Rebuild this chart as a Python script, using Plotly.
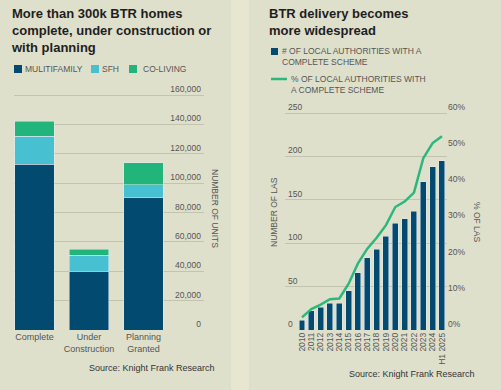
import plotly.graph_objects as go

# ---------------- data ----------------
stages = ["Complete", "Under<br>Construction", "Planning<br>Granted"]
multifamily = [113000, 40000, 90000]
sfh = [19000, 11000, 9000]
co_living = [10000, 4000, 15000]
unit_ticks = [0, 20000, 40000, 60000, 80000, 100000, 120000, 140000, 160000]

years = ["2010", "2011", "2012", "2013", "2014", "2015", "2016", "2017", "2018",
         "2019", "2020", "2021", "2022", "2023", "2024", "H1 2025"]
las_count = [11, 22, 26, 31, 31, 45, 66, 83, 93, 108, 123, 128, 137, 171, 188, 195]
las_pct = [3.5, 5.8, 7.0, 8.5, 8.7, 12.8, 18.4, 22.5, 25.5, 29.0, 34.0, 35.5, 38.0,
           47.5, 51.7, 53.6]
las_ticks = [0, 50, 100, 150, 200, 250]
pct_ticks = [0, 10, 20, 30, 40, 50, 60]
pct_labels = ["0%", "10%", "20%", "30%", "40%", "50%", "60%"]

# ---------------- style ----------------
W, H = 501, 390
NAVY = "#024a70"
CYAN = "#47c1d1"
GREEN = "#21b47b"
LINEG = "#2cb77e"
BG = "#dfe0cc"
STRIPE = "#e7e6d0"
GRID = "#c3c4b0"
TICK = "#555555"
FONT = "Liberation Sans, Arial, sans-serif"


def X(px):
    return px / W


def Y(py):
    return 1 - py / H


# pixel geometry of the plot areas
L_TOP_GRID, L_ZERO = 95, 330          # left chart: 160,000 and 0 lines
R_TOP_GRID, R_ZERO = 113, 330         # right chart: 250 and 0 lines
HEAD = 13                             # extra room above top gridline for labels
l_max = 160000 * (L_ZERO - L_TOP_GRID + HEAD) / (L_ZERO - L_TOP_GRID)
r_max = 250 * (R_ZERO - R_TOP_GRID + HEAD) / (R_ZERO - R_TOP_GRID)
p_max = 60 * r_max / 250
X2_RANGE = [-1.82, 15.54]

fig = go.Figure()

fig.add_trace(go.Bar(x=stages, y=multifamily, name="MULITIFAMILY", marker_color=NAVY,
                     width=0.716, xaxis="x", yaxis="y", showlegend=False))
fig.add_trace(go.Bar(x=stages, y=sfh, name="SFH", marker_color=CYAN,
                     width=0.716, xaxis="x", yaxis="y", showlegend=False))
fig.add_trace(go.Bar(x=stages, y=co_living, name="CO-LIVING", marker_color=GREEN,
                     width=0.716, xaxis="x", yaxis="y", showlegend=False))

fig.add_trace(go.Bar(x=years, y=las_count, name="# OF LOCAL AUTHORITIES WITH A COMPLETE SCHEME",
                     marker_color=NAVY, width=0.64, xaxis="x2", yaxis="y2", showlegend=False))
fig.add_trace(go.Scatter(x=years, y=las_pct, name="% OF LOCAL AUTHORITIES WITH A COMPLETE SCHEME",
                         mode="lines", line=dict(color=LINEG, width=2.5),
                         xaxis="x3", yaxis="y3", showlegend=False))

tickfont = dict(family=FONT, size=8.5, color=TICK)
common = dict(zeroline=False, showline=False, ticks="", ticklen=0, automargin=False,
              fixedrange=True)

fig.update_layout(
    width=W, height=H,
    margin=dict(l=0, r=0, t=0, b=0, pad=0),
    paper_bgcolor=BG, plot_bgcolor="rgba(0,0,0,0)",
    barmode="stack",
    font=dict(family=FONT, color=TICK),
    showlegend=False,
    xaxis=dict(domain=[X(14), X(204)], range=[-0.376, 3.11], showgrid=False,
               anchor="y", tickfont=dict(family=FONT, size=9, color=TICK), **common),
    yaxis=dict(domain=[Y(L_ZERO), Y(L_TOP_GRID - HEAD)], range=[0, l_max], side="right",
               anchor="x", tickvals=unit_ticks, tickformat=",",
               ticklabelposition="inside top", showgrid=True, gridcolor=GRID, gridwidth=1,
               tickfont=tickfont, **common),
    xaxis2=dict(domain=[X(285), X(447)], range=X2_RANGE, showgrid=False,
                anchor="y2", showticklabels=False, **common),
    xaxis3=dict(overlaying="x2", range=X2_RANGE, showgrid=False, anchor="y3",
                tickmode="array", tickvals=years, tickangle=-90,
                tickfont=dict(family=FONT, size=8.5, color=TICK), **common),
    yaxis2=dict(domain=[Y(R_ZERO), Y(R_TOP_GRID - HEAD)], range=[0, r_max], side="left",
                anchor="x2", tickvals=las_ticks, ticklabelposition="inside top",
                showgrid=True, gridcolor=GRID, gridwidth=1, tickfont=tickfont, **common),
    yaxis3=dict(range=[0, p_max], overlaying="y2", side="right", anchor="x3",
                tickmode="array", tickvals=pct_ticks, ticktext=pct_labels,
                ticklabelshift=-6, showgrid=False, tickfont=tickfont, **common),
)

shapes = [
    dict(type="rect", xref="paper", yref="paper", x0=X(231), x1=X(249), y0=0, y1=1,
         fillcolor=STRIPE, line=dict(width=0), layer="below"),
    # left legend swatches
    dict(type="rect", xref="paper", yref="paper", x0=X(14), x1=X(22), y0=Y(73), y1=Y(65),
         fillcolor=NAVY, line=dict(width=0)),
    dict(type="rect", xref="paper", yref="paper", x0=X(91), x1=X(99), y0=Y(73), y1=Y(65),
         fillcolor=CYAN, line=dict(width=0)),
    dict(type="rect", xref="paper", yref="paper", x0=X(129), x1=X(137), y0=Y(73), y1=Y(65),
         fillcolor=GREEN, line=dict(width=0)),
    # right legend swatches
    dict(type="rect", xref="paper", yref="paper", x0=X(271), x1=X(278), y0=Y(55), y1=Y(48),
         fillcolor=NAVY, line=dict(width=0)),
    dict(type="line", xref="paper", yref="paper", x0=X(271), x1=X(287), y0=Y(79), y1=Y(79),
         line=dict(color=LINEG, width=2.5)),
]

ann = []


def text(t, x, y, size, color=TICK, xanchor="left", yanchor="middle", angle=0, bold=False, align="left"):
    ann.append(dict(text=("<b>%s</b>" % t) if bold else t, x=X(x), y=Y(y), xref="paper", yref="paper",
                    xanchor=xanchor, yanchor=yanchor, showarrow=False, textangle=angle,
                    align=align, font=dict(family=FONT, size=size, color=color)))


text("More than 300k BTR homes<br>complete, under construction or<br>with planning",
     9, 4, 13, color="#1e1e1e", yanchor="top", bold=True)
text("BTR delivery becomes<br>more widespread", 267, 4, 13, color="#1e1e1e", yanchor="top", bold=True)

text("MULITIFAMILY", 23, 69, 8.5)
text("SFH", 100, 69, 8.5)
text("CO-LIVING", 141, 69, 8.5)

text("# OF LOCAL AUTHORITIES WITH A<br>COMPLETE SCHEME", 280, 56.5, 8.5)
text("% OF LOCAL AUTHORITIES WITH<br>A COMPLETE SCHEME", 289, 84, 8.5)

text("NUMBER OF UNITS", 215, 208, 8.5, xanchor="center", angle=90)
text("NUMBER OF LAS", 274, 212, 8.5, xanchor="center", angle=-90)
text("% OF LAS", 477, 222, 8.5, xanchor="center", angle=90)

text("Source: Knight Frank Research", 217, 368, 9, color="#333333", xanchor="right")
text("Source: Knight Frank Research", 477, 374, 9, color="#333333", xanchor="right")

fig.update_layout(shapes=shapes, annotations=ann)

fig.write_html("out.html", config={"displayModeBar": False},
               post_script="document.body.style.margin='0';")
